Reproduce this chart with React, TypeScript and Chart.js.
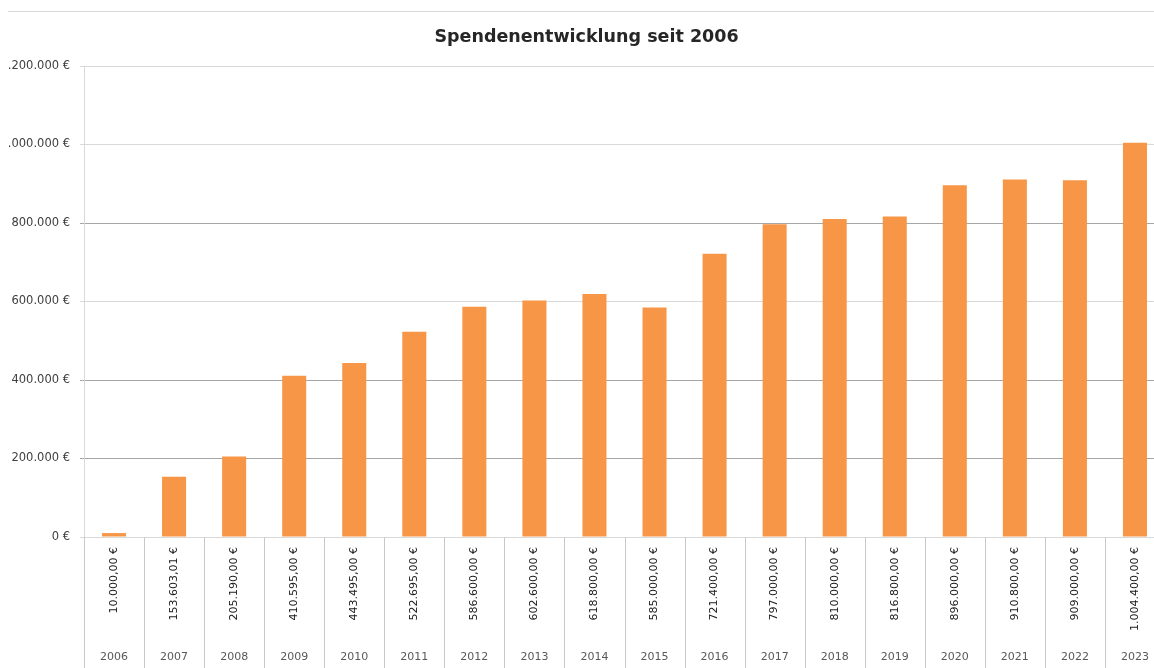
import React, { useEffect, useRef } from "react";
import { Chart, registerables } from "chart.js";

Chart.register(...registerables);

const years = ["2006","2007","2008","2009","2010","2011","2012","2013","2014","2015","2016","2017","2018","2019","2020","2021","2022","2023"];
const donations = [10000, 153603.01, 205190, 410595, 443495, 522695, 586600, 602600, 618800, 585000, 721400, 797000, 810000, 816800, 896000, 910800, 909000, 1004400];
const chartTitle = "Spendenentwicklung seit 2006";
const darkGridValues = [200000, 400000, 800000];

const fmtEuro = (v: number) =>
  v.toLocaleString("de-DE", { minimumFractionDigits: 2, maximumFractionDigits: 2 }) + " €";
const fmtTick = (v: number) => v.toLocaleString("de-DE", { maximumFractionDigits: 0 }) + " €";

const tablePlugin = {
  id: "tablePlugin",
  afterDraw(chart: any) {
    const { ctx, chartArea, scales } = chart;
    const x = scales.x;
    const H = chart.height;
    const W = chart.width;
    ctx.save();
    // top border line
    ctx.strokeStyle = "#d9d9d9";
    ctx.lineWidth = 1;
    ctx.beginPath();
    ctx.moveTo(0, 3.5);
    ctx.lineTo(W, 3.5);
    ctx.stroke();
    // title
    ctx.fillStyle = "#262626";
    ctx.font = "bold 17.5px 'DejaVu Sans'";
    ctx.textAlign = "center";
    ctx.textBaseline = "middle";
    ctx.fillText(chartTitle, W / 2, 29);
    // table
    const n = years.length;
    const cw = (chartArea.right - chartArea.left) / n;
    ctx.strokeStyle = "#c8c8c8";
    for (let i = 0; i <= n; i++) {
      const xx = Math.round(chartArea.left + i * cw) + 0.5;
      ctx.beginPath();
      ctx.moveTo(xx, chartArea.bottom);
      ctx.lineTo(xx, H);
      ctx.stroke();
    }
    for (let i = 0; i < n; i++) {
      const cx = x.getPixelForValue(i);
      ctx.save();
      ctx.translate(cx, chartArea.bottom + 10);
      ctx.rotate(-Math.PI / 2);
      ctx.font = "11px 'DejaVu Sans'";
      ctx.fillStyle = "#1a1a1a";
      ctx.textAlign = "right";
      ctx.textBaseline = "middle";
      ctx.fillText(fmtEuro(donations[i]), 0, 0);
      ctx.restore();
      ctx.font = "11px 'DejaVu Sans'";
      ctx.fillStyle = "#595959";
      ctx.textAlign = "center";
      ctx.textBaseline = "middle";
      ctx.fillText(years[i], cx, 649);
    }
    ctx.restore();
  },
};

export default function App() {
  const ref = useRef<HTMLCanvasElement>(null);
  useEffect(() => {
    if (!ref.current) return;
    const chart = new Chart(ref.current, {
      type: "bar",
      data: {
        labels: years,
        datasets: [
          {
            label: "Spenden",
            data: donations,
            backgroundColor: "#F79646",
            borderWidth: 0,
            barPercentage: 0.4,
            categoryPercentage: 1,
          },
        ],
      },
      options: {
        responsive: false,
        animation: false,
        devicePixelRatio: 1,
        layout: { padding: { top: 58, bottom: 131, left: 0, right: 0 } },
        plugins: {
          legend: { display: false },
          title: { display: false },
          tooltip: { enabled: false },
        },
        scales: {
          x: { display: false },
          y: {
            min: 0,
            max: 1200000,
            afterFit: (s: any) => {
              s.width = 76;
            },
            ticks: {
              stepSize: 200000,
              padding: 10,
              color: "#404040",
              font: { family: "'DejaVu Sans'", size: 11.5 },
              callback: (v: any) => fmtTick(Number(v)),
            },
            grid: {
              drawTicks: true,
              tickLength: 4,
              color: (c: any) =>
                c.tick && darkGridValues.includes(c.tick.value) ? "#a6a6a6" : "#d9d9d9",
            },
            border: { display: true, color: "#d9d9d9" },
          },
        },
      },
      plugins: [tablePlugin],
    });
    return () => chart.destroy();
  }, []);
  return (
    <div
      style={{
        position: "fixed",
        top: 8,
        left: 8,
        width: 1146,
        height: 660,
        overflow: "hidden",
      }}
    >
      <canvas ref={ref} width={1157} height={660} style={{ display: "block" }} />
    </div>
  );
}
